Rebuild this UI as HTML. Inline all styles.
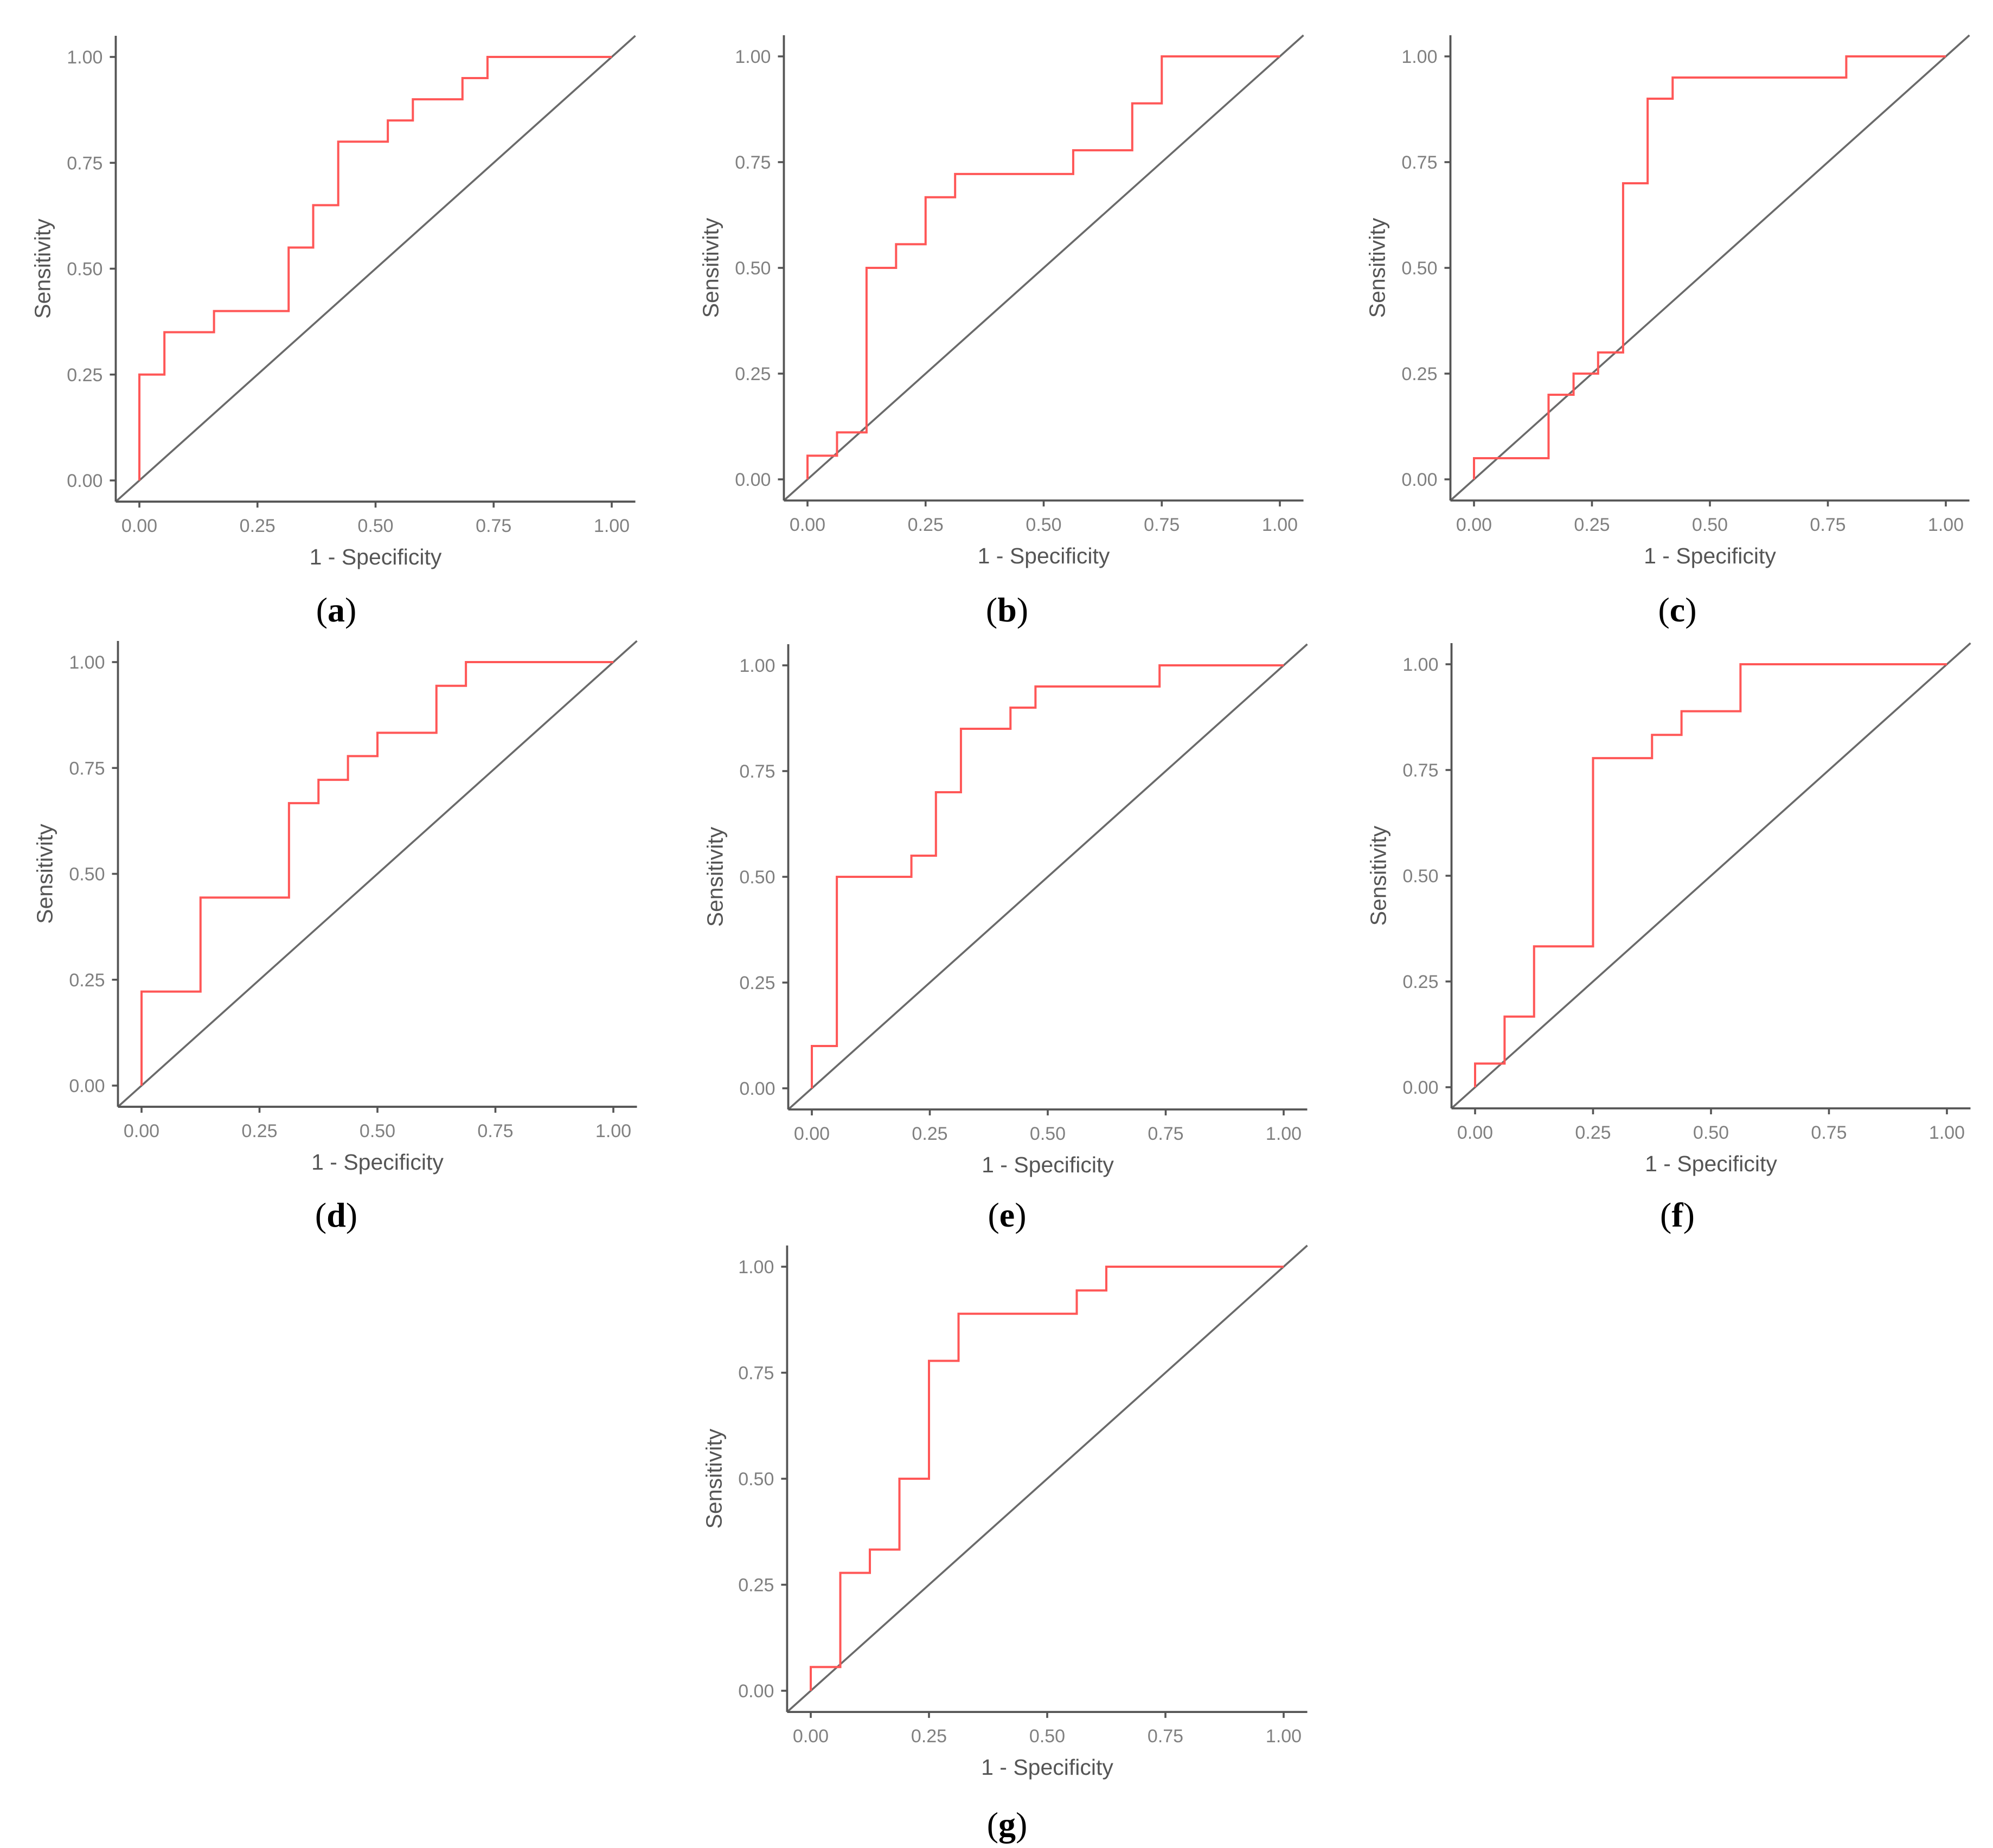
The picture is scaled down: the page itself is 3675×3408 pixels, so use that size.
<!DOCTYPE html>
<html><head><meta charset="utf-8"><style>
html,body{margin:0;padding:0;background:#fff;}
svg{display:block;}
</style></head><body>
<svg id="fig" xmlns="http://www.w3.org/2000/svg" width="3675" height="3408" viewBox="0 0 3675 3408"></svg>
<script>
// ROC step data: move horizontally to fpr value, then up to tpr value
const fprA = [0, 0.053, 0.158, 0.316, 0.368, 0.421, 0.526, 0.579, 0.684, 0.737, 1];
const tprA = [0.25, 0.35, 0.40, 0.55, 0.65, 0.80, 0.85, 0.90, 0.95, 1, 1];
const fprB = [0, 0.0625, 0.125, 0.1875, 0.25, 0.3125, 0.5625, 0.6875, 0.75, 1];
const tprB = [0.056, 0.111, 0.5, 0.556, 0.667, 0.722, 0.778, 0.889, 1, 1];
const fprC = [0, 0.158, 0.211, 0.263, 0.316, 0.368, 0.421, 0.789, 1];
const tprC = [0.05, 0.2, 0.25, 0.3, 0.7, 0.9, 0.95, 1, 1];
const fprD = [0, 0.125, 0.3125, 0.375, 0.4375, 0.5, 0.625, 0.6875, 1];
const tprD = [0.222, 0.444, 0.667, 0.722, 0.778, 0.833, 0.944, 1, 1];
const fprE = [0, 0.053, 0.211, 0.263, 0.316, 0.421, 0.474, 0.737, 1];
const tprE = [0.1, 0.5, 0.55, 0.7, 0.85, 0.9, 0.95, 1, 1];
const fprF = [0, 0.0625, 0.125, 0.25, 0.375, 0.4375, 0.5625, 1];
const tprF = [0.056, 0.167, 0.333, 0.778, 0.833, 0.889, 1, 1];
const fprG = [0, 0.0625, 0.125, 0.1875, 0.25, 0.3125, 0.5625, 0.625, 1];
const tprG = [0.056, 0.278, 0.333, 0.5, 0.778, 0.889, 0.944, 1, 1];
const tickValues = [0, 0.25, 0.5, 0.75, 1];
const tickLabels = ["0.00", "0.25", "0.50", "0.75", "1.00"];
const panelLetters = ["a", "b", "c", "d", "e", "f", "g"];

const NS = "http://www.w3.org/2000/svg";
const svg = document.getElementById("fig");
function mk(tag, attrs, parent) {
  const e = document.createElementNS(NS, tag);
  for (const k in attrs) e.setAttribute(k, attrs[k]);
  (parent || svg).appendChild(e);
  return e;
}
const panels = [
  {x0:257, x1:1128, y1:105, y0:886, cx:620, cy:1124, fpr:fprA, tpr:tprA},
  {x0:1489, x1:2360, y1:104, y0:884, cx:1857, cy:1124, fpr:fprB, tpr:tprB},
  {x0:2718, x1:3588, y1:104, y0:884, cx:3093, cy:1124, fpr:fprC, tpr:tprC},
  {x0:261, x1:1131, y1:1221, y0:2002, cx:620, cy:2240, fpr:fprD, tpr:tprD},
  {x0:1497, x1:2367, y1:1227, y0:2007, cx:1857, cy:2240, fpr:fprE, tpr:tprE},
  {x0:2720, x1:3590, y1:1225, y0:2005, cx:3093, cy:2240, fpr:fprF, tpr:tprF},
  {x0:1495, x1:2367, y1:2336, y0:3118, cx:1857, cy:3364, fpr:fprG, tpr:tprG}
];
panels.forEach((p, i) => {
  const L = panelLetters[i];
  const g = mk("g", {});
  
  
  const sx = v => p.x0 + v * (p.x1 - p.x0);
  const sy = v => p.y0 - v * (p.y0 - p.y1);
  const axL = sx(-0.05), axR = sx(1.05), axB = sy(-0.05), axT = sy(1.05);
  const diag = mk("line", {x1:axL, y1:axB, x2:axR, y2:axT, stroke:"#6a6a6a", "stroke-width":3.6}, g);
  
  
  let pts = [[sx(0), sy(0)]];
  let cy = 0;
  for (let k = 0; k < p.fpr.length; k++) {
    pts.push([sx(p.fpr[k]), sy(cy)]);
    cy = p.tpr[k];
    pts.push([sx(p.fpr[k]), sy(cy)]);
  }
  const curve = mk("polyline", {points: pts.map(q => q.join(",")).join(" "), fill:"none", stroke:"#ff5757", "stroke-width":4, "stroke-linejoin":"miter"}, g);
  
  
  const xa = mk("line", {x1:axL, y1:axB, x2:axR, y2:axB, stroke:"#555", "stroke-width":3.8}, g);
  
  
  const ya = mk("line", {x1:axL, y1:axB, x2:axL, y2:axT, stroke:"#555", "stroke-width":3.8}, g);
  
  
  tickValues.forEach((v, k) => {
    mk("line", {x1:sx(v), y1:axB, x2:sx(v), y2:axB + 11, stroke:"#555", "stroke-width":3.6}, g);
    const tx = mk("text", {x:sx(v), y:axB + 56, "text-anchor":"middle", "font-family":"Liberation Sans, sans-serif", "font-size":34, fill:"#808080"}, g);
    tx.textContent = tickLabels[k];
    
    
    mk("line", {x1:axL - 11, y1:sy(v), x2:axL, y2:sy(v), stroke:"#555", "stroke-width":3.6}, g);
    const ty = mk("text", {x:axL - 24, y:sy(v) + 12, "text-anchor":"end", "font-family":"Liberation Sans, sans-serif", "font-size":34, fill:"#808080"}, g);
    ty.textContent = tickLabels[k];
    
    
  });
  const xt = mk("text", {x:(sx(0) + sx(1)) / 2, y:axB + 116, "text-anchor":"middle", "font-family":"Liberation Sans, sans-serif", "font-size":41, fill:"#555"}, g);
  xt.textContent = "1 - Specificity";
  
  
  const ycx = axL - 135, ycy = (sy(0) + sy(1)) / 2;
  const yt = mk("text", {x:ycx, y:ycy, "text-anchor":"middle", "dominant-baseline":"central", transform:"rotate(-90 " + ycx + " " + ycy + ")", "font-family":"Liberation Sans, sans-serif", "font-size":41, fill:"#555"}, g);
  yt.textContent = "Sensitivity";
  
  
  const cap = mk("text", {x:p.cx, y:p.cy, "text-anchor":"middle", "dominant-baseline":"central", "font-family":"Liberation Serif, serif", "font-size":64, fill:"#000"}, g);
  
  
  const t1 = mk("tspan", {}, cap); t1.textContent = "(";
  const t2 = mk("tspan", {"font-weight":"bold"}, cap); t2.textContent = L;
  const t3 = mk("tspan", {}, cap); t3.textContent = ")";
});
</script>
</body></html>
